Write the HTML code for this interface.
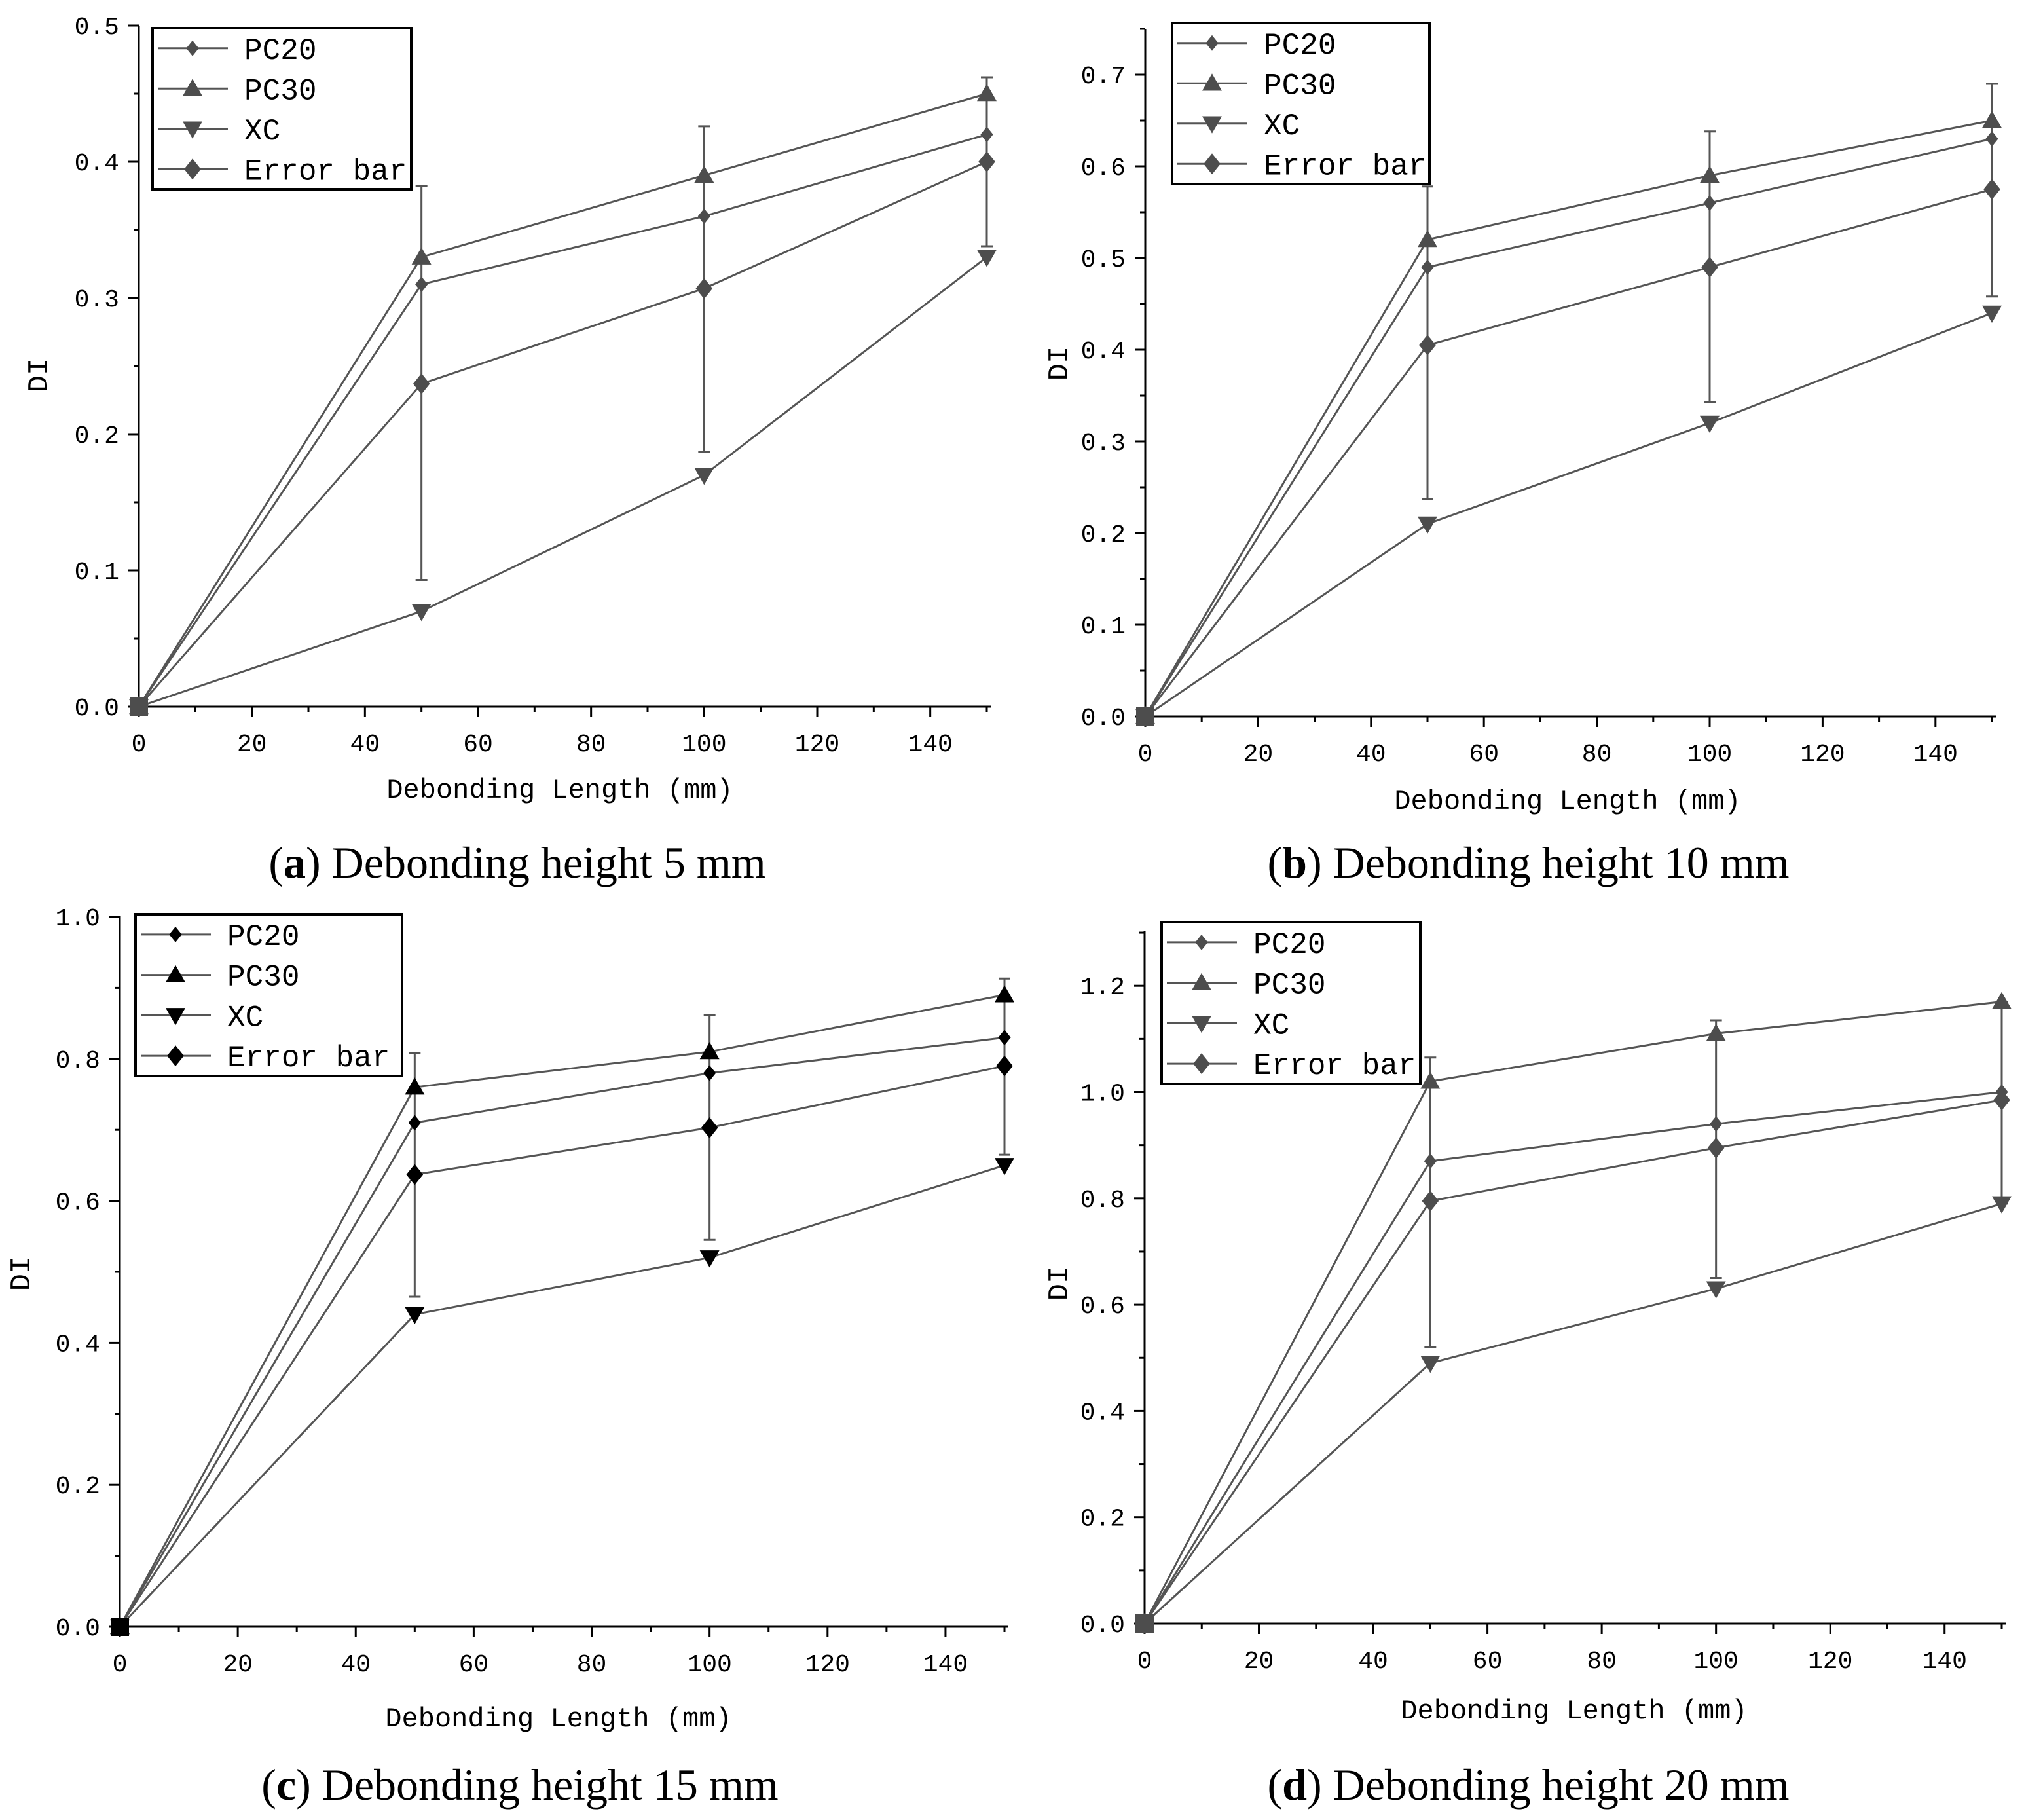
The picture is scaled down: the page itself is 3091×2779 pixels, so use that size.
<!DOCTYPE html>
<html><head><meta charset="utf-8">
<style>
html,body{margin:0;padding:0;background:#fff;}
svg{display:block;}
.tk{font-family:"Liberation Mono",monospace;font-size:38px;fill:#000;}
.lg{font-family:"Liberation Mono",monospace;font-size:46px;fill:#000;}
.cap{font-family:"Liberation Serif",serif;font-size:68px;fill:#000;}
</style></head>
<body>
<svg id="fig" width="3091" height="2779" viewBox="0 0 3091 2779" xmlns="http://www.w3.org/2000/svg"></svg>
<script>
const xCats = [0, 50, 100, 150];
const xTicks = [0, 20, 40, 60, 80, 100, 120, 140];
const seriesNames = ["PC20", "PC30", "XC", "Error bar"];
// panel a
const aPC20 = [0, 0.31, 0.36, 0.42];
const aPC30 = [0, 0.33, 0.39, 0.45];
const aXC = [0, 0.07, 0.17, 0.33];
const aEB = [0, 0.237, 0.307, 0.40];
const aErrLo = [0, 0.093, 0.187, 0.338];
const aErrHi = [0, 0.382, 0.426, 0.462];
const aYTicks = [0.0, 0.1, 0.2, 0.3, 0.4, 0.5];
// panel b
const bPC20 = [0, 0.49, 0.56, 0.63];
const bPC30 = [0, 0.52, 0.59, 0.65];
const bXC = [0, 0.21, 0.32, 0.44];
const bEB = [0, 0.405, 0.49, 0.575];
const bErrLo = [0, 0.237, 0.343, 0.458];
const bErrHi = [0, 0.578, 0.638, 0.69];
const bYTicks = [0.0, 0.1, 0.2, 0.3, 0.4, 0.5, 0.6, 0.7];
// panel c
const cPC20 = [0, 0.71, 0.78, 0.83];
const cPC30 = [0, 0.76, 0.81, 0.89];
const cXC = [0, 0.44, 0.52, 0.65];
const cEB = [0, 0.637, 0.703, 0.79];
const cErrLo = [0, 0.465, 0.545, 0.665];
const cErrHi = [0, 0.808, 0.862, 0.913];
const cYTicks = [0.0, 0.2, 0.4, 0.6, 0.8, 1.0];
// panel d
const dPC20 = [0, 0.87, 0.94, 1.0];
const dPC30 = [0, 1.02, 1.11, 1.17];
const dXC = [0, 0.49, 0.63, 0.79];
const dEB = [0, 0.795, 0.895, 0.985];
const dErrLo = [0, 0.52, 0.65, 0.79];
const dErrHi = [0, 1.065, 1.135, 1.17];
const dYTicks = [0.0, 0.2, 0.4, 0.6, 0.8, 1.0, 1.2];

const NS = "http://www.w3.org/2000/svg";
const svg = document.getElementById("fig");
function mk(tag, attrs, parent){
  const e = document.createElementNS(NS, tag);
  for (const k in attrs) e.setAttribute(k, attrs[k]);
  (parent || svg).appendChild(e);
  return e;
}
function marker(g, type, x, y, col){
  let e;
  if (type === 0){ const s=12; e = mk("polygon",{points:`${x},${y-s} ${x+s*0.8},${y} ${x},${y+s} ${x-s*0.8},${y}`,fill:col},g); }
  else if (type === 1){ const s=15; e = mk("polygon",{points:`${x},${y-s} ${x+s},${y+s*0.75} ${x-s},${y+s*0.75}`,fill:col},g); }
  else if (type === 2){ const s=15; e = mk("polygon",{points:`${x},${y+s} ${x+s},${y-s*0.75} ${x-s},${y-s*0.75}`,fill:col},g); }
  else { const s=16; e = mk("polygon",{points:`${x},${y-s} ${x+s*0.8},${y} ${x},${y+s} ${x-s*0.8},${y}`,fill:col},g); }
  return e;
}
function panel(cfg){
  const g = mk("g",{});
  
  
  const X = v => cfg.x0 + (v/150)*(cfg.x150 - cfg.x0);
  const Y = v => cfg.y0 - (v/cfg.unit)*cfg.upx;
  const col = cfg.col;
  const ax = mk("line",{x1:cfg.x0,y1:cfg.y0,x2:cfg.x150+6,y2:cfg.y0,stroke:"#000","stroke-width":3},g);
  
  
  const ay = mk("line",{x1:cfg.x0,y1:cfg.y0,x2:cfg.x0,y2:cfg.ytop,stroke:"#000","stroke-width":3},g);
  
  
  for (let v=0; v<=150; v+=10){
    const major = v%20===0;
    mk("line",{x1:X(v),y1:cfg.y0,x2:X(v),y2:cfg.y0+(major?16:8),stroke:"#000","stroke-width":3},g);
  }
  xTicks.forEach(v=>{
    const t = mk("text",{x:X(v),y:cfg.y0+68,"text-anchor":"middle",class:"tk"},g);
    t.textContent = v;
    
    
  });
  const step = cfg.yTicks[1]-cfg.yTicks[0];
  const ymaxv = (cfg.y0-cfg.ytop)/cfg.upx*cfg.unit;
  for (let v=0; v<=ymaxv+1e-6; v+=step/2){
    const major = Math.abs(Math.round(v/step)*step - v) < 1e-6;
    mk("line",{x1:cfg.x0,y1:Y(v),x2:cfg.x0-(major?16:8),y2:Y(v),stroke:"#000","stroke-width":3},g);
  }
  cfg.yTicks.forEach(v=>{
    const t = mk("text",{x:cfg.x0-30,y:Y(v)+13,"text-anchor":"end",class:"tk"},g);
    t.textContent = v.toFixed(1);
    
    
  });
  const yt = mk("text",{x:cfg.ytx,y:cfg.yty,"text-anchor":"middle",class:"tk",style:"font-size:44px",transform:`rotate(-90 ${cfg.ytx} ${cfg.yty})`},g);
  yt.textContent = "DI";
  
  
  const xt = mk("text",{x:cfg.xtx,y:cfg.xty,"text-anchor":"middle",class:"tk",style:"font-size:42px"},g);
  xt.textContent = "Debonding Length (mm)";
  
  
  const eg = mk("g",{},g);
  
  
  for (let i=1;i<xCats.length;i++){
    const x = X(xCats[i]);
    mk("line",{x1:x,y1:Y(cfg.lo[i]),x2:x,y2:Y(cfg.hi[i]),stroke:"#555","stroke-width":3},eg);
    mk("line",{x1:x-9,y1:Y(cfg.lo[i]),x2:x+9,y2:Y(cfg.lo[i]),stroke:"#555","stroke-width":3},eg);
    mk("line",{x1:x-9,y1:Y(cfg.hi[i]),x2:x+9,y2:Y(cfg.hi[i]),stroke:"#555","stroke-width":3},eg);
  }
  cfg.series.forEach((s,k)=>{
    const sg = mk("g",{},g);
    
    
    const pts = s.map((v,i)=>X(xCats[i])+","+Y(v)).join(" ");
    mk("polyline",{points:pts,fill:"none",stroke:"#555","stroke-width":3},sg);
    s.forEach((v,i)=>{
      const m = marker(sg,k,X(xCats[i]),Y(v),col);
      
      
    });
  });
  mk("rect",{x:cfg.x0-14,y:cfg.y0-14,width:28,height:28,fill:col},g);
  const L = cfg.leg;
  const lg = mk("g",{},g);
  
  
  mk("rect",{x:L[0],y:L[1],width:L[2]-L[0],height:L[3]-L[1],fill:"#fff",stroke:"#000","stroke-width":4},lg);
  const rh = (L[3]-L[1])/4;
  seriesNames.forEach((n,k)=>{
    const ry = L[1]+rh*(k+0.5);
    const e = mk("g",{},lg);
    
    
    mk("line",{x1:L[0]+8,y1:ry,x2:L[0]+115,y2:ry,stroke:"#555","stroke-width":3},e);
    marker(e,k,L[0]+61,ry,col);
    const t = mk("text",{x:L[0]+140,y:ry+16,class:"lg"},e);
    t.textContent = n;
  });
  const c = mk("text",{x:cfg.capx,y:cfg.capy,"text-anchor":"middle",class:"cap"},g);
  
  
  const b = mk("tspan",{},c); b.textContent = "(";
  const bb = mk("tspan",{"font-weight":"bold"},c); bb.textContent = cfg.letter;
  const r = mk("tspan",{},c); r.textContent = ") " + cfg.capText;
}
panel({name:"panel-a",x0:212,x150:1507,y0:1079,unit:0.1,upx:208,ytop:39,yTicks:aYTicks,
  series:[aPC20,aPC30,aXC,aEB],lo:aErrLo,hi:aErrHi,col:"#4d4d4d",
  leg:[233,43,628,289],ytx:72,yty:573,xtx:855,xty:1218,capx:790,capy:1340,letter:"a",capText:"Debonding height 5 mm"});
panel({name:"panel-b",x0:1749,x150:3042,y0:1094,unit:0.1,upx:140,ytop:44,yTicks:bYTicks,
  series:[bPC20,bPC30,bXC,bEB],lo:bErrLo,hi:bErrHi,col:"#4d4d4d",
  leg:[1790,35,2183,281],ytx:1630,yty:555,xtx:2394,xty:1235,capx:2334,capy:1340,letter:"b",capText:"Debonding height 10 mm"});
panel({name:"panel-c",x0:183,x150:1534,y0:2484,unit:0.2,upx:216.8,ytop:1398,yTicks:cYTicks,
  series:[cPC20,cPC30,cXC,cEB],lo:cErrLo,hi:cErrHi,col:"#000",
  leg:[207,1396,614,1643],ytx:45,yty:1945,xtx:853,xty:2636,capx:794,capy:2748,letter:"c",capText:"Debonding height 15 mm"});
panel({name:"panel-d",x0:1748,x150:3057,y0:2479,unit:0.2,upx:162.3,ytop:1422,yTicks:dYTicks,
  series:[dPC20,dPC30,dXC,dEB],lo:dErrLo,hi:dErrHi,col:"#4d4d4d",
  leg:[1774,1408,2169,1655],ytx:1630,yty:1960,xtx:2404,xty:2624,capx:2334,capy:2748,letter:"d",capText:"Debonding height 20 mm"});
</script>
</body></html>
